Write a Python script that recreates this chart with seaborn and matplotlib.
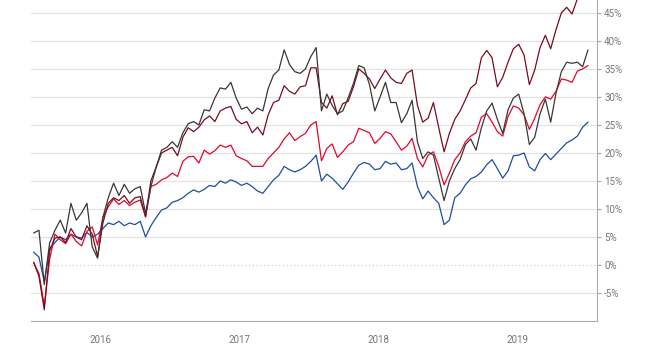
import numpy as np
import pandas as pd
import matplotlib
matplotlib.use('Agg')
import matplotlib.pyplot as plt
import matplotlib.dates as mdates
from matplotlib.ticker import FuncFormatter, NullFormatter
import seaborn as sns

# biweekly readings (cumulative return, %)
dates = pd.date_range('2016-01-08', periods=105, freq='14D')

blue = [2.3, 1.4, -3.0, 3.0, 4.0, 5.0, 4.5, 5.5, 5.0, 4.8,
        5.8, 5.0, 5.5, 6.5, 7.5, 7.2, 7.8, 7.0, 7.5, 7.2,
        7.8, 5.0, 7.0, 8.5, 9.8, 10.2, 11.2, 11.5, 12.0, 12.8,
        13.4, 13.0, 13.5, 14.2, 14.0, 15.0, 14.6, 15.2, 14.8, 14.2,
        14.6, 14.0, 13.2, 12.8, 14.0, 15.2, 16.0, 17.6, 17.0, 16.6,
        17.0, 17.6, 18.5, 19.6, 15.0, 16.2, 15.5, 14.5, 13.5, 14.8,
        16.4, 17.8, 18.3, 18.0, 17.0, 17.2, 18.5, 18.0, 18.2, 17.0,
        17.2, 18.2, 14.0, 11.8, 13.2, 12.0, 11.0, 7.2, 8.0, 12.0,
        12.8, 14.3, 15.4, 15.8, 16.6, 17.9, 18.8, 17.2, 15.5, 16.8,
        19.5, 19.6, 20.0, 17.5, 16.8, 18.8, 19.9, 18.8, 19.8, 20.8,
        21.8, 22.3, 23.0, 24.6, 25.5]

red = [0.4, -1.5, -7.3, 1.0, 5.5, 4.5, 3.8, 5.5, 4.2, 3.4,
       6.0, 6.8, 3.6, 8.5, 10.4, 11.8, 10.8, 11.5, 10.6, 11.2,
       11.6, 8.6, 14.0, 14.4, 15.2, 15.6, 16.4, 15.8, 18.5, 19.3,
       19.4, 18.2, 20.5, 19.8, 20.4, 21.4, 21.0, 21.4, 19.5, 19.0,
       18.6, 17.6, 17.6, 17.6, 19.0, 20.0, 21.0, 22.5, 23.6, 22.2,
       22.9, 23.5, 25.0, 25.6, 18.6, 20.8, 21.6, 19.2, 20.2, 21.4,
       22.0, 24.4, 24.0, 23.6, 21.7, 22.6, 23.8, 23.4, 22.0, 20.5,
       21.2, 22.6, 19.0, 17.5, 19.6, 20.2, 17.6, 14.3, 16.4, 18.8,
       20.0, 22.0, 23.0, 23.6, 26.4, 27.0, 25.5, 23.8, 23.0, 26.5,
       28.4, 28.0, 26.8, 24.2, 26.2, 28.6, 30.0, 29.6, 31.0, 33.2,
       33.0, 32.6, 34.6, 35.0, 35.6]

maroon = [0.5, -2.0, -8.0, 2.5, 4.8, 5.0, 4.0, 6.5, 5.0, 4.5,
          7.0, 5.5, 1.5, 7.5, 11.0, 12.0, 11.5, 12.4, 11.0, 12.0,
          12.2, 8.6, 15.0, 17.5, 20.0, 20.5, 21.0, 19.5, 22.8, 24.5,
          23.8, 24.6, 25.9, 26.6, 25.6, 27.5, 28.0, 28.3, 26.0, 25.2,
          25.6, 23.6, 24.6, 23.2, 26.8, 29.0, 29.4, 32.0, 31.0, 30.5,
          31.8, 32.0, 35.2, 35.2, 29.0, 28.0, 30.2, 26.8, 28.8, 29.2,
          31.8, 35.0, 34.2, 33.2, 31.5, 33.2, 34.8, 33.4, 32.6, 32.4,
          34.2, 34.8, 28.5, 25.5, 26.2, 29.0, 24.5, 20.2, 23.5, 26.0,
          27.5, 29.5, 31.6, 32.4, 37.0, 38.3, 37.0, 31.8, 33.5, 36.2,
          38.6, 39.4, 37.5, 32.2, 34.8, 38.8, 41.0, 38.6, 42.0, 45.0,
          46.0, 44.8, 47.5, 48.6, 49.5]

gray = [5.7, 6.2, -3.5, 3.9, 6.2, 8.0, 5.7, 11.0, 8.0, 9.3,
        11.0, 3.2, 1.2, 8.5, 12.0, 14.6, 12.4, 14.4, 12.8, 13.6,
        14.0, 9.2, 14.0, 17.5, 20.5, 21.0, 22.0, 21.0, 23.6, 25.2,
        25.6, 25.0, 27.7, 27.5, 29.8, 31.6, 31.4, 32.6, 29.8, 27.8,
        28.2, 27.0, 28.0, 27.5, 31.5, 33.9, 34.8, 38.4, 35.8, 34.5,
        34.2, 35.0, 37.2, 38.8, 27.5, 30.5, 28.5, 27.0, 27.5, 29.8,
        32.4, 35.6, 35.2, 32.2, 27.5, 30.0, 32.6, 29.0, 29.0, 25.4,
        27.0, 29.4, 22.0, 19.0, 20.2, 19.6, 15.5, 11.5, 15.0, 17.2,
        18.8, 21.5, 22.5, 20.5, 24.5, 27.5, 28.9, 26.0, 23.5, 27.7,
        29.8, 30.5, 27.0, 21.5, 22.8, 27.0, 29.6, 25.5, 30.7, 34.5,
        36.2, 36.0, 36.2, 35.4, 38.4]

names = ['blue', 'red', 'maroon', 'gray']
colors = {'blue': '#1f4e9c', 'red': '#e3062d', 'maroon': '#7a0c1e', 'gray': '#383838'}

df = pd.DataFrame({
    'date': np.tile(dates, 4),
    'value': blue + red + maroon + gray,
    'series': np.repeat(names, len(dates)),
})

sns.set_style('white')
plt.rcParams['font.family'] = ['Roboto', 'DejaVu Sans']

fig = plt.figure(figsize=(6.45, 3.55), dpi=100)
ax = fig.add_axes([0.048, 0.0958, 0.8778, 0.9042])

sns.lineplot(data=df, x='date', y='value', hue='series', hue_order=names,
             palette=colors, linewidth=0.9, estimator=None, legend=False, ax=ax)

ax.set_xlim(pd.Timestamp('2016-01-01'), pd.Timestamp('2020-01-27'))
ax.set_ylim(-10, 47.3)
ax.set_xlabel('')
ax.set_ylabel('')

# y axis on the right
ax.yaxis.tick_right()
ax.set_yticks(range(-5, 50, 5))
ax.yaxis.set_major_formatter(FuncFormatter(lambda v, p: f'{v:.0f}%'))
ax.tick_params(axis='y', length=3, width=0.8, color='#aaaaaa', labelsize=7,
               labelcolor='#777777', pad=2)
ax.grid(axis='y', color='#e2e2e2', linewidth=0.9)
ax.grid(axis='x', visible=False)
for v, gl in zip(ax.get_yticks(), ax.get_ygridlines()):
    if v == 0:
        gl.set_linestyle((0, (1, 2)))
        gl.set_color('#cccccc')

# x axis: long ticks at years, short at quarters, labels mid-year
ax.xaxis.set_major_locator(mdates.YearLocator())
ax.xaxis.set_major_formatter(NullFormatter())
ax.xaxis.set_minor_locator(mdates.MonthLocator(bymonth=[4, 7, 10]))
ax.xaxis.set_minor_formatter(FuncFormatter(
    lambda v, p: str(mdates.num2date(v).year) if mdates.num2date(v).month == 7 else ''))
ax.tick_params(axis='x', which='major', length=18, width=0.8, color='#999999')
ax.tick_params(axis='x', which='minor', length=4, width=0.8, color='#999999',
               labelsize=7, labelcolor='#777777', pad=6)

for s in ['top', 'left']:
    ax.spines[s].set_visible(False)
for s in ['bottom', 'right']:
    ax.spines[s].set_color('#aaaaaa')
    ax.spines[s].set_linewidth(0.8)

fig.savefig('out.png', dpi=100)
